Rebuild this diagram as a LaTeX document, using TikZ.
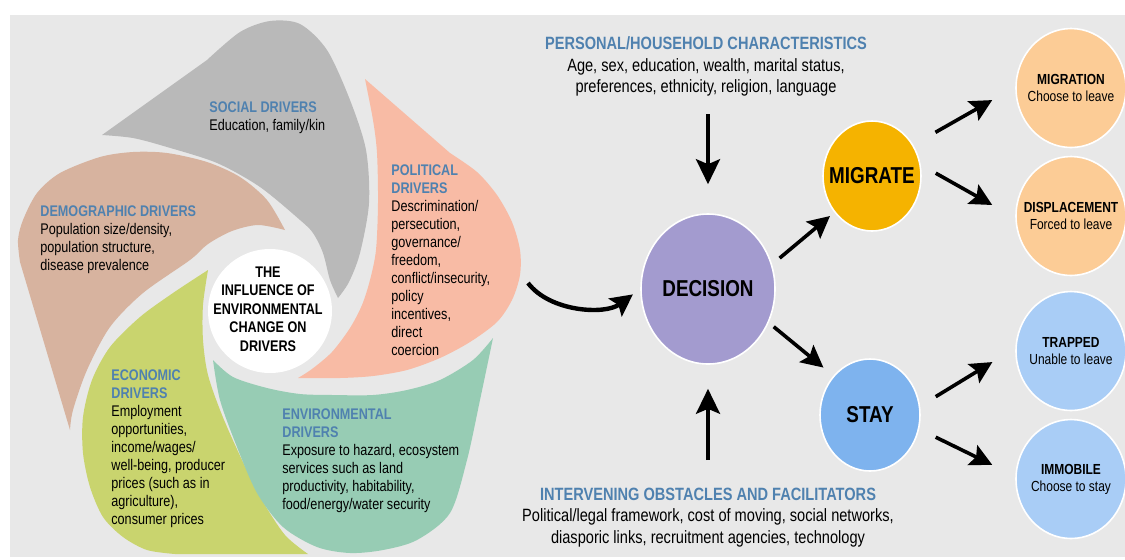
\documentclass[tikz,border=0pt]{standalone}
\usepackage{fontspec}
\setmainfont{Liberation Sans}[FakeStretch=0.82]
\usetikzlibrary{shapes.geometric,arrows.meta,calc}

\definecolor{bggray}{HTML}{E8E8E8}
\definecolor{socialc}{HTML}{B9B9B9}
\definecolor{democ}{HTML}{D7B39F}
\definecolor{econc}{HTML}{C9D46E}
\definecolor{envc}{HTML}{97CCB4}
\definecolor{polc}{HTML}{F8BBA5}
\definecolor{titleblue}{HTML}{4F81AF}
\definecolor{decisionc}{HTML}{A39BCF}
\definecolor{migratec}{HTML}{F5B300}
\definecolor{stayc}{HTML}{7EB3EE}
\definecolor{leavec}{HTML}{FCCC96}
\definecolor{remainc}{HTML}{A9CDF6}

\newcommand{\drvtitle}[1]{\textcolor{titleblue}{\textbf{#1}}}

\begin{document}
\begin{tikzpicture}[x=0.5pt, y=-0.5pt,
    drvtext/.style={align=left, anchor=north west, inner sep=0pt, font=\fontsize{7.7}{9}\selectfont},
    subhead/.style={align=center, anchor=north, inner sep=0pt, font=\fontsize{8.9}{10.75}\selectfont},
    bigstate/.style={ellipse, draw=white, line width=0.8pt, inner sep=0pt, inner xsep=-6pt, font=\fontsize{11.5}{13}\selectfont\bfseries},
    outcome/.style={ellipse, draw=white, line width=0.8pt, inner sep=0pt, inner xsep=-5pt, minimum width=55pt, minimum height=59.5pt, align=center, font=\fontsize{7.3}{8.5}\selectfont},
    arrow/.style={line width=1.8pt, -{Stealth[length=11pt, width=11pt, inset=2pt]}},
    bigarrow/.style={line width=1.8pt, -{Stealth[length=12.5pt, width=12pt, inset=2.5pt]}}]

    \useasboundingbox (0,0) rectangle (1125,559);
    \fill[bggray] (10,15) rectangle (1125,557);

    % the five drivers
    \fill[socialc] (102,135) -- plot[smooth] coordinates {(207,60) (240,32) (270,21) (300,24) (327,50) (350,100) (366,150) (369,203) (360,253) (349,282) (338,298)}
        -- plot[smooth] coordinates {(338,298) (330,280) (323,253) (313,233) (300,220) (260,187) (217,163) (167,147) (133,138) (102,135)} -- cycle;
    \fill[democ] (70,430) -- plot[smooth] coordinates {(20,262) (18,240) (23,220) (37,193) (60,173) (100,157) (133,152) (167,153) (207,162) (240,177) (267,200) (285,230)}
        -- plot[smooth] coordinates {(285,230) (258,225) (232,231) (208,244) (190,260) (143,293) (110,327) (87,370) (73,410) (70,430)} -- cycle;
    \fill[econc] plot[smooth] coordinates {(208,270) (173,293) (140,317) (110,347) (92,380) (83,417) (83,453) (90,487) (103,517) (123,537) (147,550) (175,554)}
        -- plot[smooth] coordinates {(308,554) (285,535) (262,500) (242,460) (222,415) (208,375) (203,340) (203,305) (208,270)} -- cycle;
    \fill[envc] plot[smooth] coordinates {(213,360) (233,377) (267,388) (300,394) (333,395) (373,395) (407,390) (440,380) (473,360) (493,338)}
        -- plot[smooth] coordinates {(493,338) (480,400) (467,460) (450,513) (417,540) (383,550) (350,553) (317,547) (283,527) (257,493) (237,447) (220,400) (213,360)} -- cycle;
    \fill[polc] (365,79) -- plot[smooth] coordinates {(450,153) (477,172) (497,195) (512,222) (520,250) (520,275) (512,300) (497,322) (470,342) (440,358) (407,370) (373,376) (340,378) (298,378)}
        -- plot[smooth] coordinates {(298,378) (312,369) (332,352) (350,328) (362,305) (370,280) (376,250) (378,203) (377,153) (373,120) (365,79)} -- cycle;
    \fill[white] (270,311) circle[radius=31pt];

    \node (core) [align=center, inner sep=0pt, font=\fontsize{7.7}{9.25}\selectfont\bfseries] at (268,309) {THE\\INFLUENCE OF\\ENVIRONMENTAL\\CHANGE ON\\DRIVERS};
    \node (social) [drvtext] at (209,101.5) {\drvtitle{SOCIAL DRIVERS}\\Education, family/kin};
    \node (political) [drvtext] at (391,164.5) {\drvtitle{POLITICAL}\\\drvtitle{DRIVERS}\\Descrimination/\\persecution,\\governance/\\freedom,\\conflict/insecurity,\\policy\\incentives,\\direct\\coercion};
    \node (demographic) [drvtext] at (40,205.5) {\drvtitle{DEMOGRAPHIC DRIVERS}\\Population size/density,\\population structure,\\disease prevalence};
    \node (economic) [drvtext] at (111,369.5) {\drvtitle{ECONOMIC}\\\drvtitle{DRIVERS}\\Employment\\opportunities,\\income/wages/\\well-being, producer\\prices (such as in\\agriculture),\\consumer prices};
    \node (environmental) [drvtext] at (282,408.5) {\drvtitle{ENVIRONMENTAL}\\\drvtitle{DRIVERS}\\Exposure to hazard, ecosystem\\services such as land\\productivity, habitability,\\food/energy/water security};

    \node (personal) [subhead] at (706,36.6) {\drvtitle{PERSONAL/HOUSEHOLD CHARACTERISTICS}\\Age, sex, education, wealth, marital status,\\preferences, ethnicity, religion, language};
    \node (obstacles) [subhead] at (708,487.6) {\drvtitle{INTERVENING OBSTACLES AND FACILITATORS}\\Political/legal framework, cost of moving, social networks,\\diasporic links, recruitment agencies, technology};

    \node (decision) [bigstate, fill=decisionc, minimum width=67pt, minimum height=75pt] at (708,289) {DECISION};
    \node (migrate) [bigstate, fill=migratec, minimum width=49pt, minimum height=55pt] at (872,176) {MIGRATE};
    \node (stay) [bigstate, fill=stayc, minimum width=50pt, minimum height=56pt] at (870,415) {STAY};

    \node (migration) [outcome, fill=leavec] at (1071,88) {\textbf{MIGRATION}\\Choose to leave};
    \node (displacement) [outcome, fill=leavec] at (1071,216) {\textbf{DISPLACEMENT}\\Forced to leave};
    \node (trapped) [outcome, fill=remainc] at (1071,351) {\textbf{TRAPPED}\\Unable to leave};
    \node (immobile) [outcome, fill=remainc] at (1071,479) {\textbf{IMMOBILE}\\Choose to stay};

    \coordinate (polout) at (528,283);
    \draw [line width=2.2pt, -{Stealth[length=11pt, width=11pt, inset=2pt]}, shorten >=4.5pt] (polout) .. controls (550,312) and (605,315) .. (decision.west);
    \draw [bigarrow, shorten <=8.5pt, shorten >=14.5pt] (personal.south -| decision) -- (decision.north);
    \draw [bigarrow, shorten <=13.8pt, shorten >=12pt] (obstacles.north -| decision) -- (decision.south);
    \draw [arrow, shorten <=4.9pt, shorten >=2.8pt] (decision.21) -- (migrate.224);
    \draw [arrow, shorten <=3.2pt, shorten >=6.4pt] (decision.-29) -- (stay.133);
    \draw [arrow, shorten <=12.7pt, shorten >=13.2pt] (migrate.37) -- (migration.179);
    \draw [arrow, shorten <=8.6pt, shorten >=13.2pt] (migrate.13) -- (displacement.182);
    \draw [arrow, shorten <=9.1pt, shorten >=13.4pt] (stay.10) -- (trapped.177);
    \draw [arrow, shorten <=9.2pt, shorten >=12.8pt] (stay.-16) -- (immobile.177);

\end{tikzpicture}
\end{document}
